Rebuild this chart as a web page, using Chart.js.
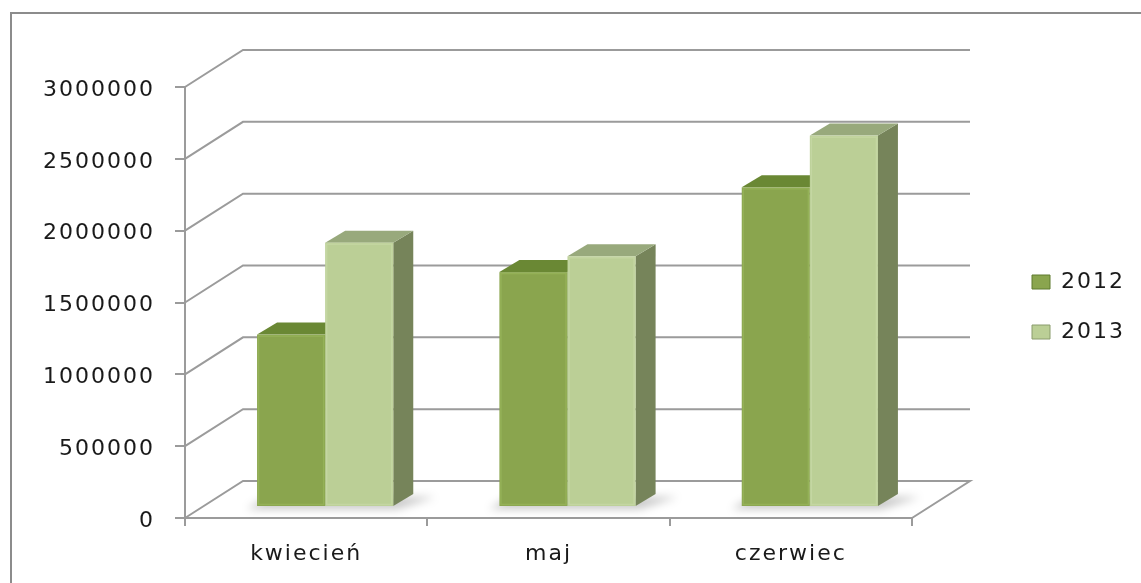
<!DOCTYPE html>
<html>
<head>
<meta charset="utf-8">
<script src="https://cdn.jsdelivr.net/npm/chart.js"></script>
<style>
  html, body { margin: 0; padding: 0; background: #fff; }
  canvas { display: block; }
</style>
</head>
<body>
<canvas id="chart1" width="1141" height="583"></canvas>
<script>
const months = ['kwiecień', 'maj', 'czerwiec'];
const years = ['2012', '2013'];
const values2012 = [1200000, 1635000, 2225000];
const values2013 = [1840000, 1745000, 2585000];
const yTicks = [0, 500000, 1000000, 1500000, 2000000, 2500000, 3000000];

const frontColors = ['#8aa54e', '#bbcf96'];
const edgeColors = ['#94b157', '#c4d6a2'];
const topColors = ['#6a8834', '#98a97c'];
const sideColors = ['#5f7a2e', '#76845a'];
const lineCol = '#9b9b9b';

// 3d look (pixels)
const wallDx = 58, wallDy = -37;  // floor / back wall depth
const barDx = 19, barDy = -11;    // bars stand a bit inside the floor
const capDx = 20, capDy = -12;    // thickness of a bar

function poly(ctx, pts, col) {
  ctx.beginPath();
  ctx.moveTo(pts[0][0], pts[0][1]);
  for (let i = 1; i < pts.length; i++) ctx.lineTo(pts[i][0], pts[i][1]);
  ctx.closePath();
  ctx.fillStyle = col;
  ctx.fill();
}

function drawBox(ctx, el, d) {
  const l = el.x - el.width / 2 + barDx, r = el.x + el.width / 2 + barDx;
  const t = el.y + barDy, b = el.base + barDy;
  poly(ctx, [[r, t], [r + capDx, t + capDy], [r + capDx, b + capDy], [r, b]], sideColors[d]);
  poly(ctx, [[l, t], [l + capDx, t + capDy], [r + capDx, t + capDy], [r, t]], topColors[d]);
  ctx.fillStyle = frontColors[d];
  ctx.fillRect(l, t, r - l, b - t);
  ctx.strokeStyle = edgeColors[d];
  ctx.lineWidth = 1.5;
  ctx.strokeRect(l + 1.5, t + 1.5, r - l - 3, b - t - 3);
}

const look3d = {
  id: 'look3d',
  afterInit(chart) {
    const lg = chart.legend;
    const fit = lg.fit;
    lg.fit = function () { fit.call(this); this.width = 1141 - 912; };
  },
  afterLayout(chart) {
    const lg = chart.legend;
    const pad = lg.options.labels.padding;
    lg.left = 1032 - pad;
    lg.right = lg.left + lg.width;
    lg.top -= 28;
    lg.bottom -= 28;
  },
  beforeDraw(chart) {
    const ctx = chart.ctx;
    ctx.letterSpacing = '2px';
    ctx.save();
    ctx.strokeStyle = '#8c8c8c';
    ctx.lineWidth = 2;
    ctx.strokeRect(11, 13, 1200, 700);
    ctx.restore();
  },
  beforeDatasetsDraw(chart) {
    const ctx = chart.ctx;
    const {left, right} = chart.chartArea;
    const y = chart.scales.y;
    ctx.save();
    ctx.strokeStyle = lineCol;
    ctx.lineWidth = 2;
    yTicks.forEach(v => {
      const py = y.getPixelForValue(v);
      ctx.beginPath();
      ctx.moveTo(left, py);
      ctx.lineTo(left + wallDx, py + wallDy);
      ctx.lineTo(right + wallDx, py + wallDy);
      if (v === 0) ctx.lineTo(right, py);
      ctx.stroke();
    });
    ctx.restore();
  },
  beforeDatasetDraw() {
    return false;
  },
  afterDatasetsDraw(chart) {
    const ctx = chart.ctx;
    const m0 = chart.getDatasetMeta(0), m1 = chart.getDatasetMeta(1);
    ctx.save();
    // soft shadow on the floor
    for (let i = 0; i < months.length; i++) {
      const a = m0.data[i], b = m1.data[i];
      const l = a.x - a.width / 2 + barDx, r = b.x + b.width / 2 + barDx;
      const fb = a.base + barDy;
      ctx.save();
      ctx.filter = 'blur(4px)';
      poly(ctx, [[l - 10, fb + 3], [r + 4, fb + 3], [r + capDx + 22, fb + capDy + 3], [l + capDx - 10, fb + capDy + 3]], 'rgba(0,0,0,0.22)');
      ctx.restore();
    }
    for (let i = 0; i < months.length; i++) {
      drawBox(ctx, m0.data[i], 0);
      drawBox(ctx, m1.data[i], 1);
    }
    ctx.restore();
  }
};

const labelFont = { family: 'DejaVu Sans', size: 22 };

new Chart(document.getElementById('chart1'), {
  type: 'bar',
  data: {
    labels: months,
    datasets: [
      { label: years[0], data: values2012, backgroundColor: frontColors[0], borderColor: '#5f7a2e', borderWidth: 1 },
      { label: years[1], data: values2013, backgroundColor: frontColors[1], borderColor: '#8a9c6c', borderWidth: 1 }
    ]
  },
  options: {
    responsive: false,
    devicePixelRatio: 1,
    animation: false,
    events: [],
    layout: { padding: { top: 87, left: 0, right: 0, bottom: 0 } },
    datasets: { bar: { categoryPercentage: 0.562, barPercentage: 1.0 } },
    scales: {
      x: {
        grid: { drawOnChartArea: false, drawTicks: true, tickLength: 8, color: lineCol, lineWidth: 2, offset: true },
        border: { display: true, color: lineCol, width: 2 },
        ticks: { color: '#1a1a1a', font: labelFont, padding: 15, maxRotation: 0 },
        afterFit(s) { s.height = 65; }
      },
      y: {
        min: 0,
        max: 3000000,
        afterBuildTicks(s) { s.ticks = yTicks.map(v => ({ value: v })); },
        grid: { drawOnChartArea: false, drawTicks: true, tickLength: 10, color: lineCol, lineWidth: 2 },
        border: { display: true, color: lineCol, width: 2 },
        ticks: { color: '#1a1a1a', font: labelFont, padding: 20, labelOffset: 3, callback: v => String(v) },
        afterFit(s) { s.width = 185; }
      }
    },
    plugins: {
      legend: {
        position: 'right',
        labels: { boxWidth: 18, boxHeight: 14, padding: 28, color: '#1a1a1a', font: labelFont }
      },
      tooltip: { enabled: false }
    }
  },
  plugins: [look3d]
});
</script>
</body>
</html>
